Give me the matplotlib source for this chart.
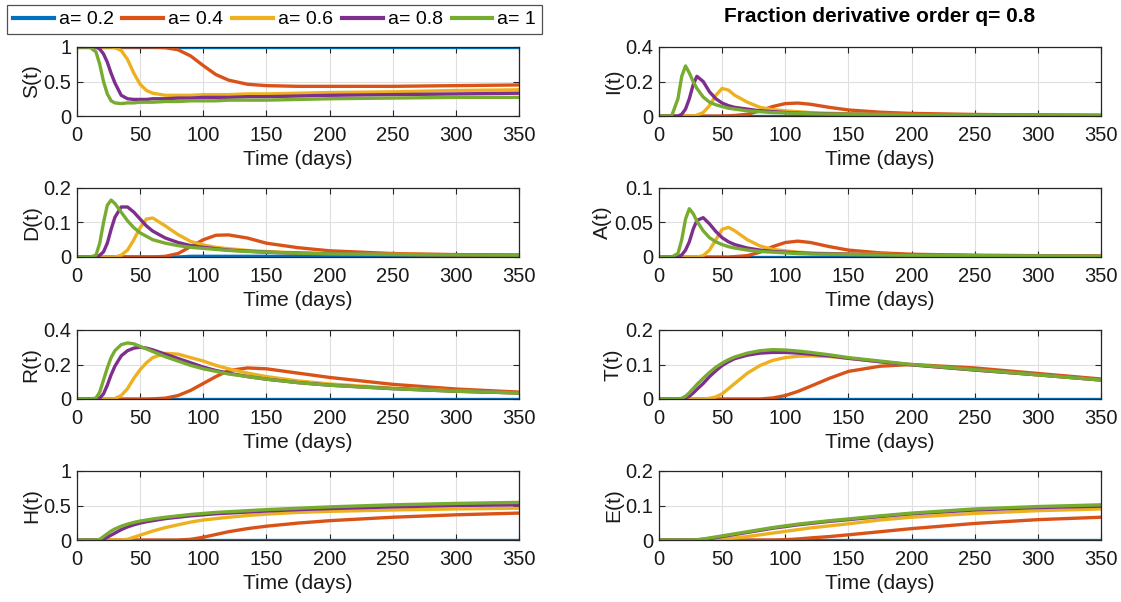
import matplotlib
matplotlib.use("Agg")
import matplotlib.pyplot as plt
from matplotlib.ticker import FormatStrFormatter

plt.rcParams['font.family'] = ['Liberation Sans', 'DejaVu Sans']

# sample days
t = [0, 10, 15, 18, 21, 24, 27, 30, 35, 40, 45, 50, 55, 60, 70, 80, 90,
     100, 110, 120, 135, 150, 175, 200, 250, 300, 350]

labels = ['a= 0.2', 'a= 0.4', 'a= 0.6', 'a= 0.8', 'a= 1']
colors = ['#0072BD', '#D95319', '#EDB120', '#7E2F8E', '#77AC30']

flat_one = [1, 1, 1, 1, 1, 1, 1, 1, 1, 1, 1, 1, 1, 1, 1, 1, 1, 1, 1, 1, 1, 1, 1, 1, 1, 1, 1]
flat_zero = [0, 0, 0, 0, 0, 0, 0, 0, 0, 0, 0, 0, 0, 0, 0, 0, 0, 0, 0, 0, 0, 0, 0, 0, 0, 0, 0]

# S(t)
S_04 = [1, 1, 1, 1, 1, 1, 1, 1, 1, 1, 1, 1, 1, 1, 0.99, 0.96, 0.87, 0.73, 0.6, 0.52, 0.46, 0.44, 0.43, 0.43, 0.43, 0.44, 0.45]
S_06 = [1, 1, 1, 1, 1, 1, 1, 0.99, 0.95, 0.82, 0.62, 0.46, 0.37, 0.33, 0.3, 0.3, 0.3, 0.31, 0.31, 0.31, 0.32, 0.32, 0.33, 0.34, 0.35, 0.37, 0.38]
S_08 = [1, 1, 1, 0.97, 0.9, 0.78, 0.62, 0.48, 0.3, 0.25, 0.24, 0.24, 0.24, 0.25, 0.25, 0.26, 0.26, 0.27, 0.27, 0.27, 0.28, 0.28, 0.29, 0.3, 0.31, 0.32, 0.33]
S_10 = [1, 1, 0.93, 0.75, 0.5, 0.32, 0.22, 0.19, 0.18, 0.19, 0.19, 0.2, 0.2, 0.2, 0.21, 0.21, 0.22, 0.22, 0.22, 0.23, 0.23, 0.23, 0.24, 0.25, 0.26, 0.27, 0.27]

# I(t)
I_04 = [0, 0, 0, 0, 0, 0, 0, 0, 0, 0, 0, 0, 0.001, 0.003, 0.01, 0.03, 0.055, 0.072, 0.075, 0.068, 0.05, 0.035, 0.022, 0.015, 0.009, 0.006, 0.004]
I_06 = [0, 0, 0, 0, 0, 0, 0, 0.005, 0.02, 0.06, 0.12, 0.16, 0.15, 0.12, 0.08, 0.05, 0.037, 0.03, 0.025, 0.02, 0.016, 0.013, 0.01, 0.008, 0.006, 0.005, 0.004]
I_08 = [0, 0, 0, 0.01, 0.04, 0.1, 0.18, 0.23, 0.2, 0.14, 0.1, 0.075, 0.06, 0.05, 0.04, 0.03, 0.025, 0.02, 0.017, 0.015, 0.012, 0.01, 0.009, 0.007, 0.005, 0.004, 0.003]
I_10 = [0, 0, 0.1, 0.23, 0.29, 0.25, 0.2, 0.16, 0.11, 0.08, 0.065, 0.055, 0.045, 0.04, 0.03, 0.025, 0.02, 0.018, 0.015, 0.013, 0.011, 0.01, 0.008, 0.007, 0.005, 0.004, 0.003]

# D(t)
D_02 = [0, 0, 0, 0, 0, 0, 0, 0, 0, 0, 0, 0, 0, 0, 0, 0, 0.002, 0.002, 0.002, 0.002, 0.002, 0.002, 0.002, 0.002, 0.002, 0.002, 0.001]
D_04 = [0, 0, 0, 0, 0, 0, 0, 0, 0, 0, 0, 0, 0, 0, 0.002, 0.01, 0.03, 0.05, 0.063, 0.064, 0.055, 0.04, 0.027, 0.018, 0.01, 0.007, 0.005]
D_06 = [0, 0, 0, 0, 0, 0, 0, 0, 0.005, 0.02, 0.05, 0.085, 0.11, 0.113, 0.09, 0.065, 0.045, 0.035, 0.028, 0.024, 0.019, 0.016, 0.012, 0.01, 0.008, 0.006, 0.005]
D_08 = [0, 0, 0, 0.005, 0.015, 0.04, 0.08, 0.115, 0.145, 0.145, 0.13, 0.11, 0.09, 0.075, 0.055, 0.042, 0.033, 0.028, 0.024, 0.02, 0.017, 0.014, 0.011, 0.009, 0.007, 0.006, 0.005]
D_10 = [0, 0, 0.005, 0.04, 0.1, 0.15, 0.165, 0.155, 0.13, 0.105, 0.085, 0.07, 0.06, 0.05, 0.04, 0.033, 0.028, 0.025, 0.022, 0.019, 0.016, 0.014, 0.011, 0.009, 0.007, 0.006, 0.005]

# A(t)
A_04 = [0, 0, 0, 0, 0, 0, 0, 0, 0, 0, 0, 0, 0, 0.0005, 0.002, 0.007, 0.015, 0.021, 0.023, 0.021, 0.015, 0.01, 0.006, 0.004, 0.0025, 0.0018, 0.0012]
A_06 = [0, 0, 0, 0, 0, 0, 0, 0, 0.002, 0.01, 0.025, 0.04, 0.043, 0.038, 0.025, 0.016, 0.011, 0.009, 0.007, 0.006, 0.005, 0.0045, 0.004, 0.003, 0.0025, 0.002, 0.0015]
A_08 = [0, 0, 0, 0.003, 0.01, 0.022, 0.04, 0.053, 0.057, 0.048, 0.037, 0.028, 0.022, 0.018, 0.013, 0.01, 0.008, 0.007, 0.006, 0.005, 0.0045, 0.004, 0.0035, 0.003, 0.002, 0.0015, 0.001]
A_10 = [0, 0, 0.005, 0.025, 0.055, 0.07, 0.063, 0.052, 0.038, 0.028, 0.022, 0.018, 0.015, 0.013, 0.01, 0.008, 0.007, 0.006, 0.005, 0.0045, 0.004, 0.0035, 0.003, 0.0025, 0.002, 0.0015, 0.001]

# R(t)
R_04 = [0, 0, 0, 0, 0, 0, 0, 0, 0, 0, 0, 0, 0, 0.001, 0.005, 0.02, 0.05, 0.09, 0.13, 0.165, 0.18, 0.175, 0.15, 0.125, 0.085, 0.058, 0.04]
R_06 = [0, 0, 0, 0, 0, 0, 0, 0.003, 0.02, 0.06, 0.12, 0.17, 0.21, 0.24, 0.265, 0.26, 0.24, 0.22, 0.195, 0.175, 0.15, 0.13, 0.105, 0.087, 0.063, 0.047, 0.035]
R_08 = [0, 0, 0, 0.005, 0.03, 0.08, 0.14, 0.19, 0.25, 0.28, 0.295, 0.3, 0.295, 0.285, 0.26, 0.235, 0.21, 0.185, 0.165, 0.15, 0.13, 0.115, 0.095, 0.08, 0.06, 0.045, 0.035]
R_10 = [0, 0, 0.005, 0.04, 0.11, 0.18, 0.24, 0.28, 0.315, 0.325, 0.32, 0.305, 0.29, 0.275, 0.245, 0.22, 0.195, 0.175, 0.16, 0.145, 0.13, 0.115, 0.095, 0.08, 0.06, 0.045, 0.035]

# T(t)
T_04 = [0, 0, 0, 0, 0, 0, 0, 0, 0, 0, 0, 0, 0, 0, 0, 0, 0.003, 0.01, 0.022, 0.037, 0.06, 0.08, 0.095, 0.1, 0.09, 0.074, 0.058]
T_06 = [0, 0, 0, 0, 0, 0, 0, 0, 0, 0.002, 0.006, 0.015, 0.03, 0.045, 0.075, 0.097, 0.112, 0.12, 0.124, 0.125, 0.123, 0.118, 0.108, 0.099, 0.084, 0.07, 0.055]
T_08 = [0, 0, 0, 0, 0.003, 0.008, 0.017, 0.028, 0.045, 0.065, 0.082, 0.097, 0.108, 0.117, 0.127, 0.133, 0.135, 0.135, 0.133, 0.13, 0.125, 0.118, 0.108, 0.099, 0.084, 0.07, 0.055]
T_10 = [0, 0, 0, 0.002, 0.008, 0.018, 0.03, 0.042, 0.06, 0.077, 0.092, 0.104, 0.114, 0.122, 0.133, 0.14, 0.143, 0.142, 0.139, 0.135, 0.128, 0.12, 0.11, 0.1, 0.085, 0.07, 0.055]

# H(t)
H_04 = [0, 0, 0, 0, 0, 0, 0, 0, 0, 0, 0, 0, 0, 0, 0, 0, 0.01, 0.04, 0.08, 0.12, 0.165, 0.2, 0.245, 0.28, 0.33, 0.365, 0.39]
H_06 = [0, 0, 0, 0, 0, 0, 0, 0, 0, 0.01, 0.04, 0.07, 0.1, 0.13, 0.18, 0.22, 0.26, 0.29, 0.31, 0.33, 0.355, 0.375, 0.4, 0.415, 0.435, 0.45, 0.46]
H_08 = [0, 0, 0, 0, 0.01, 0.04, 0.07, 0.1, 0.15, 0.19, 0.22, 0.245, 0.265, 0.28, 0.31, 0.33, 0.35, 0.365, 0.38, 0.39, 0.405, 0.42, 0.44, 0.455, 0.48, 0.5, 0.51]
H_10 = [0, 0, 0, 0.01, 0.05, 0.09, 0.13, 0.16, 0.2, 0.23, 0.255, 0.275, 0.29, 0.305, 0.33, 0.35, 0.37, 0.385, 0.4, 0.41, 0.425, 0.44, 0.46, 0.48, 0.51, 0.53, 0.545]

# E(t)
E_04 = [0, 0, 0, 0, 0, 0, 0, 0, 0, 0, 0, 0, 0, 0, 0, 0, 0, 0.001, 0.003, 0.006, 0.01, 0.015, 0.024, 0.033, 0.048, 0.059, 0.066]
E_06 = [0, 0, 0, 0, 0, 0, 0, 0, 0, 0, 0.001, 0.002, 0.004, 0.006, 0.01, 0.015, 0.02, 0.025, 0.03, 0.035, 0.041, 0.047, 0.058, 0.066, 0.077, 0.085, 0.09]
E_08 = [0, 0, 0, 0, 0, 0, 0, 0, 0.002, 0.004, 0.007, 0.01, 0.013, 0.016, 0.022, 0.028, 0.034, 0.039, 0.044, 0.048, 0.054, 0.059, 0.068, 0.076, 0.087, 0.094, 0.098]
E_10 = [0, 0, 0, 0, 0, 0, 0, 0.001, 0.003, 0.006, 0.009, 0.012, 0.015, 0.018, 0.024, 0.03, 0.036, 0.041, 0.046, 0.05, 0.056, 0.061, 0.07, 0.078, 0.09, 0.097, 0.102]

panels = [
    ('S(t)', [flat_one, S_04, S_06, S_08, S_10], [0, 0.5, 1]),
    ('I(t)', [flat_zero, I_04, I_06, I_08, I_10], [0, 0.2, 0.4]),
    ('D(t)', [D_02, D_04, D_06, D_08, D_10], [0, 0.1, 0.2]),
    ('A(t)', [flat_zero, A_04, A_06, A_08, A_10], [0, 0.05, 0.1]),
    ('R(t)', [flat_zero, R_04, R_06, R_08, R_10], [0, 0.2, 0.4]),
    ('T(t)', [flat_zero, T_04, T_06, T_08, T_10], [0, 0.1, 0.2]),
    ('H(t)', [flat_zero, H_04, H_06, H_08, H_10], [0, 0.5, 1]),
    ('E(t)', [flat_zero, E_04, E_06, E_08, E_10], [0, 0.1, 0.2]),
]

W, H = 1121, 602
fig = plt.figure(figsize=(W / 100, H / 100), dpi=100)

col_x = [77, 659]
col_w = [442, 442]
row_top = [47, 188, 330, 471]
ax_h = 69

handles = None
for k, (name, series, yt) in enumerate(panels):
    r, c = divmod(k, 2)
    ax = fig.add_axes([col_x[c] / W, 1 - (row_top[r] + ax_h) / H,
                       col_w[c] / W, ax_h / H])
    lines = []
    for y, col, lab in zip(series, colors, labels):
        ln, = ax.plot(t, y, color=col, lw=2.4, label=lab)
        lines.append(ln)
    if handles is None:
        handles = lines
    ax.set_xlim(0, 350)
    ax.set_ylim(yt[0], yt[-1])
    ax.set_xticks([0, 50, 100, 150, 200, 250, 300, 350])
    ax.set_yticks(yt)
    ax.yaxis.set_major_formatter(FormatStrFormatter('%g'))
    ax.grid(True, color='#dfdfdf', lw=0.8)
    ax.set_axisbelow(True)
    ax.tick_params(direction='in', top=True, right=True, length=4,
                   labelsize=14.5, colors='#262626', labelcolor='#1a1a1a')
    ax.tick_params(axis='x', pad=7)
    ax.tick_params(axis='y', pad=4)
    for sp in ax.spines.values():
        sp.set_color('#262626')
        sp.set_linewidth(0.9)
    ax.set_xlabel('Time (days)', fontsize=15, color='#1a1a1a', labelpad=3.5)
    ax.set_ylabel(name, fontsize=15, color='#1a1a1a', labelpad=2)

fig.text(880 / W, 1 - 16 / H, 'Fraction derivative order q= 0.8',
         ha='center', va='center', fontsize=15, fontweight='bold')

leg = fig.legend(handles, labels, loc='upper left', bbox_to_anchor=(7 / W, 1 - 5 / H),
                 ncol=5, fontsize=14, frameon=True, fancybox=False,
                 handlelength=2.1, handletextpad=0.26, columnspacing=0.45,
                 borderpad=0.3, borderaxespad=0)
leg.get_frame().set_edgecolor('#262626')
leg.get_frame().set_linewidth(0.9)
for ln in leg.get_lines():
    ln.set_linewidth(3)

fig.savefig('out.png', dpi=100)
